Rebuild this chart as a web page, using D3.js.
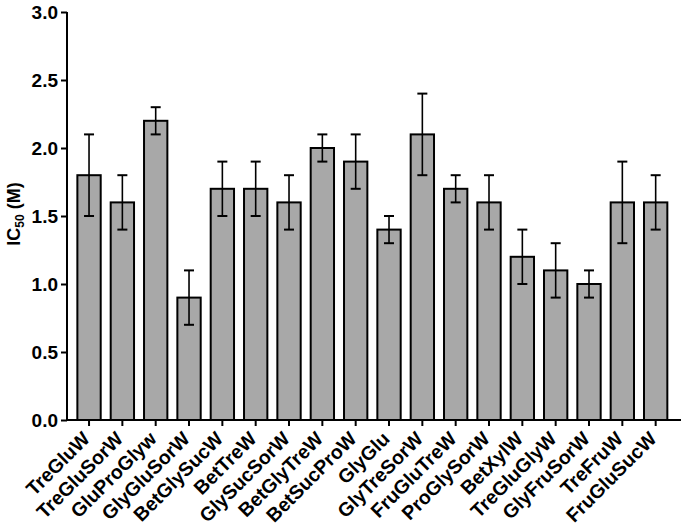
<!DOCTYPE html>
<html><head><meta charset="utf-8">
<script src="https://cdn.jsdelivr.net/npm/d3@7"></script>
<style>body{margin:0;background:#fff;} svg{display:block;font-family:"Liberation Sans",Arial,sans-serif;}</style>
</head><body>
<svg id="c" width="682" height="527"></svg>
<script>
const categories = ["TreGluW","TreGluSorW","GluProGlyw","GlyGluSorW","BetGlySucW","BetTreW","GlySucSorW","BetGlyTreW","BetSucProW","GlyGlu","GlyTreSorW","FruGluTreW","ProGlySorW","BetXylW","TreGluGlyW","GlyFruSorW","TreFruW","FruGluSucW"];
const values = [1.8,1.6,2.2,0.9,1.7,1.7,1.6,2.0,1.9,1.4,2.1,1.7,1.6,1.2,1.1,1.0,1.6,1.6];
const errors = [0.3,0.2,0.1,0.2,0.2,0.2,0.2,0.1,0.2,0.1,0.3,0.1,0.2,0.2,0.2,0.1,0.3,0.2];
const yTicks = [0,0.5,1.0,1.5,2.0,2.5,3.0];

const svg = d3.select("#c");
const y = d3.scaleLinear().domain([0,3]).range([420,12]);
const x = d3.scaleBand().domain(categories).range([60.7,684]).paddingInner(0.3).paddingOuter(0.5);

// bars
svg.append("g").selectAll("rect").data(categories).join("rect")
  .attr("x", d=>x(d)).attr("width", x.bandwidth())
  .attr("y", (d,i)=>y(values[i])).attr("height",(d,i)=>y(0)-y(values[i]))
  .attr("fill","#a8a8a8").attr("stroke","#000").attr("stroke-width",2);

// error bars
const eb = svg.append("g").attr("stroke","#000");
categories.forEach((c,i)=>{
  const cx = x(c)+x.bandwidth()/2;
  const lo = y(values[i]-errors[i]), hi = y(values[i]+errors[i]);
  eb.append("line").attr("x1",cx).attr("x2",cx).attr("y1",lo).attr("y2",hi).attr("stroke-width",1.6);
  [lo,hi].forEach(v=>eb.append("line").attr("x1",cx-5).attr("x2",cx+5).attr("y1",v).attr("y2",v).attr("stroke-width",2));
});

// y axis
const ya = svg.append("g").attr("transform","translate(67,0)")
  .call(d3.axisLeft(y).tickValues(yTicks).tickFormat(d3.format(".1f")).tickSize(6).tickPadding(3));
ya.select(".domain").attr("stroke-width",2).attr("d","M0,12V421");
ya.selectAll(".tick line").attr("stroke-width",2);
ya.selectAll("text").attr("font-size",19).attr("font-weight","bold").attr("fill","#000").attr("font-family","Liberation Sans, Arial, sans-serif");

// x axis
const xa = svg.append("g").attr("transform","translate(0,420)")
  .call(d3.axisBottom(x).tickSize(6).tickPadding(4));
xa.select(".domain").attr("stroke-width",2).attr("d","M66,0H681");
xa.selectAll(".tick line").attr("stroke-width",2);
xa.selectAll("text").attr("font-size",19.5).attr("font-weight","bold").attr("fill","#000")
  .attr("font-family","Liberation Sans, Arial, sans-serif")
  .attr("text-anchor","end").attr("x",0).attr("y",0).attr("dy",0)
  .attr("transform","translate(2,20) rotate(-45)");

// y label
const yl = svg.append("text").attr("transform","translate(20,214) rotate(-90)")
  .attr("text-anchor","middle").attr("font-size",18).attr("font-weight","bold");
yl.append("tspan").text("IC");
yl.append("tspan").text("50").attr("font-size",12).attr("dy",4);
yl.append("tspan").text(" (M)").attr("dy",-4);
</script>
</body></html>
